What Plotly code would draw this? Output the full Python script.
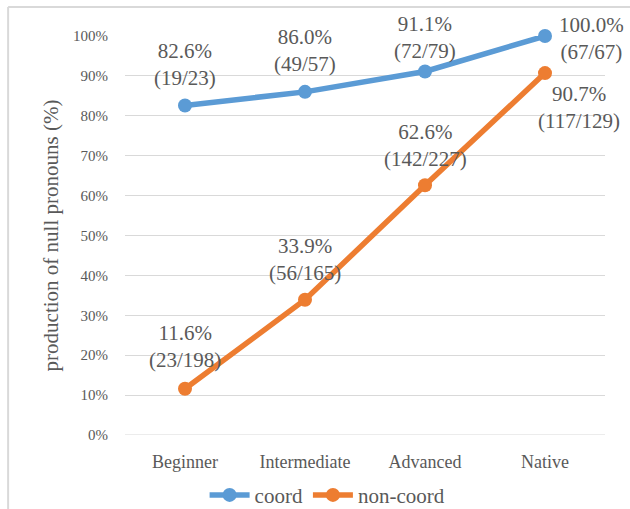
import plotly.graph_objects as go

levels = ["Beginner", "Intermediate", "Advanced", "Native"]
coord_pct = [82.6, 86.0, 91.1, 100.0]
coord_counts = ["(19/23)", "(49/57)", "(72/79)", "(67/67)"]
noncoord_pct = [11.6, 33.9, 62.6, 90.7]
noncoord_counts = ["(23/198)", "(56/165)", "(142/227)", "(117/129)"]

BLUE = "#5B9BD5"
ORANGE = "#ED7D31"
GRID = "#D9D9D9"
TEXT = "#595959"
SERIF = "Liberation Serif"

fig = go.Figure()
fig.add_trace(go.Scatter(
    x=levels, y=[v / 100 for v in coord_pct], name="coord",
    mode="lines+markers", line=dict(color=BLUE, width=5.5),
    marker=dict(size=14, color=BLUE), cliponaxis=False,
))
fig.add_trace(go.Scatter(
    x=levels, y=[v / 100 for v in noncoord_pct], name="non-coord",
    mode="lines+markers", line=dict(color=ORANGE, width=5.5),
    marker=dict(size=14, color=ORANGE), cliponaxis=False,
))

# label offsets (px) per point: (xshift, yshift)
coord_shift = [(0, 41), (0, 41), (0, 34), (46, -2)]
noncoord_shift = [(0, 42), (0, 40), (0, 40), (34, -34)]

annotations = []
for series, counts, shifts in (
    (coord_pct, coord_counts, coord_shift),
    (noncoord_pct, noncoord_counts, noncoord_shift),
):
    for lvl, v, c, (dx, dy) in zip(levels, series, counts, shifts):
        annotations.append(dict(
            x=lvl, y=v / 100, xref="x", yref="y",
            text=f"{v:.1f}%<br>{c}", showarrow=False,
            xshift=dx, yshift=dy,
            font=dict(family=SERIF, size=21, color=TEXT),
        ))

fig.update_layout(
    width=630, height=509,
    margin=dict(l=125, r=25, t=36, b=74, autoexpand=False),
    paper_bgcolor="white", plot_bgcolor="white",
    font=dict(family=SERIF, color=TEXT),
    showlegend=True,
    legend=dict(
        orientation="h", x=0.52, xanchor="center", xref="container",
        y=0.027, yanchor="middle", yref="container",
        font=dict(family=SERIF, size=21, color=TEXT),
        itemwidth=40,
    ),
    annotations=annotations,
    shapes=[
        dict(type="line", xref="paper", yref="paper",
             x0=-0.2435, x1=1.2, y0=1.0727, y1=1.0727,
             line=dict(color=GRID, width=2)),
        dict(type="line", xref="paper", yref="paper",
             x0=-0.2435, x1=-0.2435, y0=1.0727, y1=-0.3,
             line=dict(color=GRID, width=2)),
    ],
)
fig.update_xaxes(
    type="category", range=[-0.5, 3.5], showgrid=False, zeroline=False,
    showline=False, ticks="", ticklabelstandoff=14, automargin=False,
    tickfont=dict(family=SERIF, size=18, color=TEXT),
)
fig.update_yaxes(
    range=[0, 1], dtick=0.1, tickformat=".0%", showgrid=True,
    gridcolor=GRID, gridwidth=1, zeroline=False, showline=False,
    ticks="", ticklabelstandoff=16, automargin=False,
    tickfont=dict(family=SERIF, size=15, color=TEXT),
    title=dict(text="production of null pronouns (%)", standoff=8,
               font=dict(family=SERIF, size=21, color=TEXT)),
)
# 0% baseline line
fig.add_hline(y=0, line=dict(color=GRID, width=1))

fig.write_html("out.html")
